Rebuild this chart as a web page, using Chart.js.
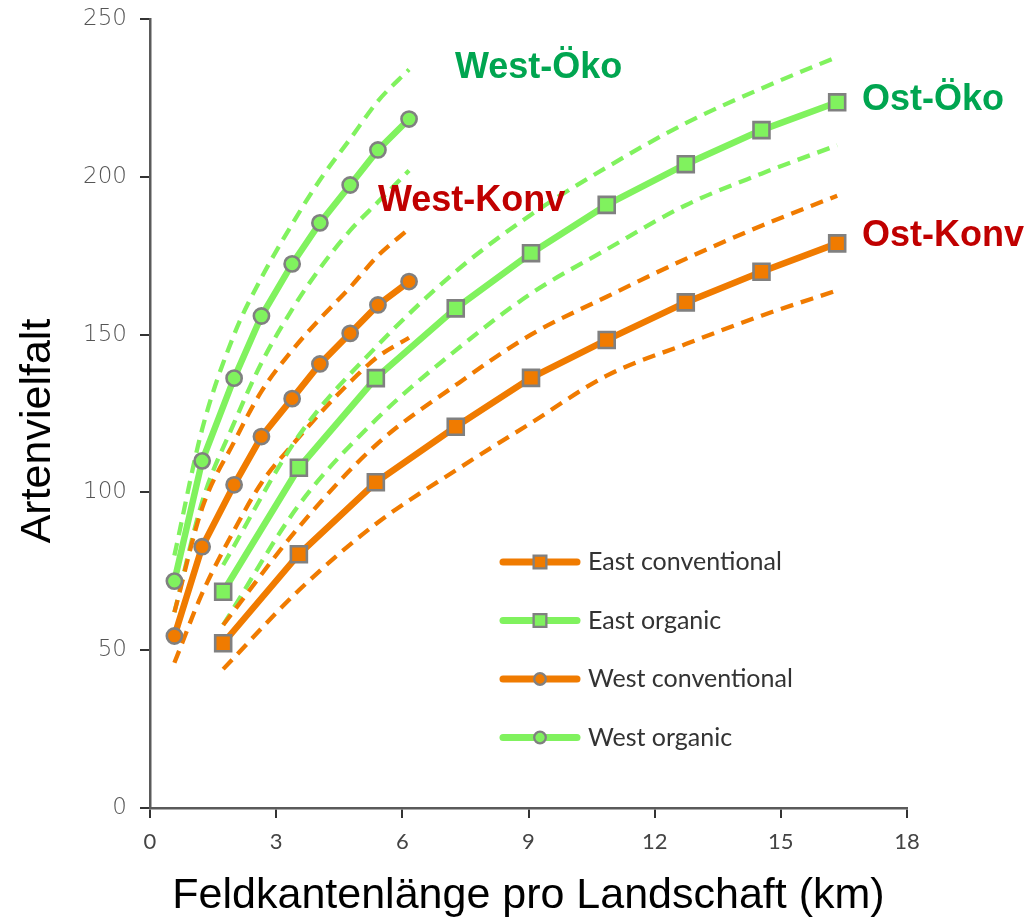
<!DOCTYPE html>
<html>
<head>
<meta charset="utf-8">
<script src="https://cdn.jsdelivr.net/npm/chart.js@4.4.1/dist/chart.umd.min.js"></script>
<style>
  html, body { margin: 0; padding: 0; background: #ffffff; }
  canvas { display: block; }
</style>
</head>
<body>
<canvas id="chart" width="1031" height="924"></canvas>
<script>
// Field-edge length per landscape (km) at each sampling step
const westX = [0.58, 1.24, 2.00, 2.65, 3.38, 4.04, 4.76, 5.42, 6.16];
const eastX = [1.74, 3.54, 5.37, 7.27, 9.06, 10.86, 12.74, 14.54, 16.34];

// Species richness (mean curve with upper / lower bounds)
const eastConventional      = [52.2, 80.4, 103.2, 120.8, 136.3, 148.3, 160.2, 169.9, 178.9];
const eastConventionalUpper = [58, 89, 115, 134, 150, 162, 174, 184.5, 194];
const eastConventionalLower = [44, 69, 90, 107, 122, 137, 147, 156, 164];

const eastOrganic      = [68.5, 107.8, 136.2, 158.3, 175.8, 191.1, 204.0, 214.8, 223.6];
const eastOrganicUpper = [77, 118, 146, 170, 188, 203, 217, 228, 238];
const eastOrganicLower = [58, 96, 123, 145, 163, 177, 191, 201, 210];

const westConventional      = [54.5, 82.8, 102.4, 117.7, 129.7, 140.7, 150.4, 159.4, 166.8];
const westConventionalUpper = [62, 95, 116, 132, 145, 155, 165, 175, 183.5];
const westConventionalLower = [46, 68, 88, 103, 115, 125, 135, 143, 149];

const westOrganic      = [71.9, 110.0, 136.2, 155.9, 172.4, 185.4, 197.4, 208.5, 218.3];
const westOrganicUpper = [80, 120, 150, 168, 185, 199, 212, 224, 234];
const westOrganicLower = [62, 97, 122, 141, 158, 171, 183, 192, 202];

const seriesNames = ['East conventional', 'East organic', 'West conventional', 'West organic'];
const curveLabels = ['West-Öko', 'West-Konv', 'Ost-Öko', 'Ost-Konv'];
const xTicks = [0, 3, 6, 9, 12, 15, 18];
const yTicks = [0, 50, 100, 150, 200, 250];
const xTitle = 'Feldkantenlänge pro Landschaft (km)';
const yTitle = 'Artenvielfalt';

const GREEN = '#80F25E';
const ORANGE = '#F07B00';
const MARKER_EDGE = '#808080';

const pts = (xs, ys) => xs.map((x, i) => ({ x, y: ys[i] }));

function mainSeries(label, xs, ys, color, style) {
  return {
    label,
    data: pts(xs, ys),
    borderColor: color,
    backgroundColor: color,
    borderWidth: 6.5,
    borderCapStyle: 'round',
    tension: 0,
    pointStyle: style,
    pointRadius: style === 'rect' ? 11.3 : 7.6,
    pointBackgroundColor: color,
    pointBorderColor: MARKER_EDGE,
    pointBorderWidth: 2.6,
    order: 1
  };
}

function bound(xs, ys, color) {
  return {
    label: '',
    data: pts(xs, ys),
    borderColor: color,
    borderWidth: 4.3,
    borderDash: [13, 8],
    cubicInterpolationMode: 'monotone',
    pointRadius: 0,
    order: 5
  };
}

const datasets = [
  mainSeries(seriesNames[0], eastX, eastConventional, ORANGE, 'rect'),
  mainSeries(seriesNames[1], eastX, eastOrganic, GREEN, 'rect'),
  mainSeries(seriesNames[2], westX, westConventional, ORANGE, 'circle'),
  mainSeries(seriesNames[3], westX, westOrganic, GREEN, 'circle'),
  bound(eastX, eastConventionalUpper, ORANGE),
  bound(eastX, eastConventionalLower, ORANGE),
  bound(eastX, eastOrganicUpper, GREEN),
  bound(eastX, eastOrganicLower, GREEN),
  bound(westX, westConventionalUpper, ORANGE),
  bound(westX, westConventionalLower, ORANGE),
  bound(westX, westOrganicUpper, GREEN),
  bound(westX, westOrganicLower, GREEN)
];

// Coloured curve names placed next to each curve (data coordinates)
const curveLabelPlacement = [
  { x: 7.25,  y: 231.3, color: '#00A550' },
  { x: 5.42,  y: 189.2, color: '#C00000' },
  { x: 16.93, y: 221.2, color: '#00A550' },
  { x: 16.93, y: 178.1, color: '#C00000' }
];

const curveLabelPlugin = {
  id: 'curveLabels',
  afterDatasetsDraw(chart) {
    const { ctx, scales } = chart;
    ctx.save();
    ctx.font = 'bold 36px "Liberation Sans", Arial, sans-serif';
    ctx.textAlign = 'left';
    ctx.textBaseline = 'alphabetic';
    curveLabels.forEach((text, i) => {
      const p = curveLabelPlacement[i];
      ctx.fillStyle = p.color;
      ctx.fillText(text, scales.x.getPixelForValue(p.x), scales.y.getPixelForValue(p.y));
    });
    ctx.restore();
  }
};

// Vertical axis caption, set a little below the middle of the axis
const yTitlePlugin = {
  id: 'yTitle',
  afterDraw(chart) {
    const { ctx, chartArea } = chart;
    ctx.save();
    ctx.translate(chartArea.left - 112, chartArea.top + 412);
    ctx.rotate(-Math.PI / 2);
    ctx.fillStyle = '#000000';
    ctx.font = '43px "Liberation Sans", Arial, sans-serif';
    ctx.textAlign = 'center';
    ctx.textBaseline = 'middle';
    ctx.fillText(yTitle, 0, 0);
    ctx.restore();
  }
};

// Key drawn inside the plot area, lower right
const keyPlugin = {
  id: 'seriesKey',
  afterDatasetsDraw(chart) {
    const { ctx, chartArea } = chart;
    const x0 = chartArea.left + 353;
    const y0 = chartArea.top + 543;
    ctx.save();
    seriesNames.forEach((name, i) => {
      const ds = chart.data.datasets.find(d => d.label === name);
      const y = y0 + i * 58.5;
      ctx.strokeStyle = ds.borderColor;
      ctx.lineWidth = 7;
      ctx.lineCap = 'round';
      ctx.setLineDash([]);
      ctx.beginPath();
      ctx.moveTo(x0, y);
      ctx.lineTo(x0 + 74, y);
      ctx.stroke();
      ctx.fillStyle = ds.pointBackgroundColor;
      ctx.strokeStyle = MARKER_EDGE;
      ctx.lineWidth = 2.3;
      Chart.helpers.drawPoint(ctx, {
        pointStyle: ds.pointStyle,
        radius: ds.pointStyle === 'rect' ? 9 : 5.8,
        borderWidth: 2.3,
        rotation: 0
      }, x0 + 37, y);
      ctx.fillStyle = '#333333';
      ctx.font = '25px Lato, "Open Sans", sans-serif';
      ctx.textAlign = 'left';
      ctx.textBaseline = 'middle';
      ctx.fillText(name, x0 + 85, y);
    });
    ctx.restore();
  }
};

new Chart(document.getElementById('chart'), {
  type: 'line',
  data: { datasets },
  plugins: [curveLabelPlugin, keyPlugin, yTitlePlugin],
  options: {
    responsive: false,
    animation: false,
    events: [],
    layout: { padding: { top: 19, right: 124, bottom: 0, left: 0 } },
    plugins: {
      legend: { display: false },
      tooltip: { enabled: false }
    },
    scales: {
      x: {
        type: 'linear',
        min: 0,
        max: 18,
        afterBuildTicks(scale) { scale.ticks = xTicks.map(v => ({ value: v })); },
        afterFit(scale) { scale.height = 116; },
        ticks: {
          color: '#444444',
          font: { family: 'Lato', size: 22 },
          padding: 11,
          maxRotation: 0
        },
        grid: {
          drawOnChartArea: false,
          drawTicks: true,
          tickLength: 10,
          color: '#333333',
          lineWidth: 2
        },
        border: { display: true, color: '#5a5a5a', width: 2.5 },
        title: {
          display: true,
          text: xTitle,
          color: '#000000',
          font: { family: '"Liberation Sans", Arial, sans-serif', size: 43 },
          padding: { top: 0, bottom: 2 }
        }
      },
      y: {
        type: 'linear',
        min: 0,
        max: 250,
        afterBuildTicks(scale) { scale.ticks = yTicks.map(v => ({ value: v })); },
        afterFit(scale) {
          scale.width = 150;
          scale.paddingTop = 0;
          scale.paddingBottom = 0;
        },
        ticks: {
          color: '#555555',
          font: { family: '"DejaVu Sans"', size: 23, weight: '200' },
          padding: 13
        },
        grid: {
          drawOnChartArea: false,
          drawTicks: true,
          tickLength: 10,
          color: '#333333',
          lineWidth: 2
        },
        border: { display: true, color: '#5a5a5a', width: 2.5 }
      }
    }
  }
});
</script>
</body>
</html>
